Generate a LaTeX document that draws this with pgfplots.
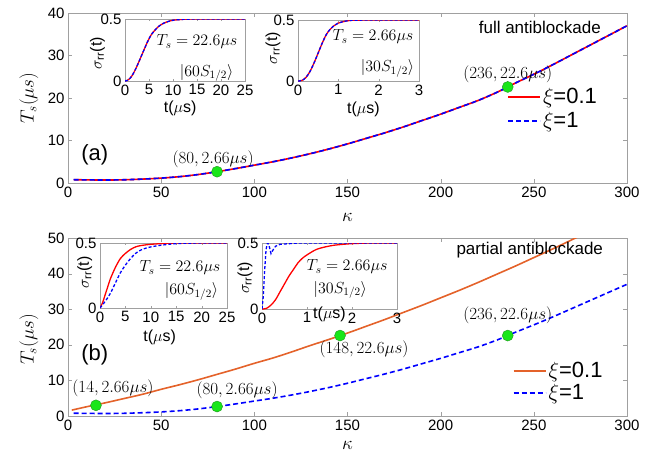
\RequirePackage{fix-cm}
\documentclass[border=0pt]{standalone}
\usepackage{amsmath}
\usepackage{fontspec}
\setmainfont{Liberation Sans}
\usepackage{pgfplots}
\usepackage{pgfplotstable}
\pgfplotsset{compat=1.18}

\definecolor{dotgreen}{RGB}{25,230,25}
\definecolor{dotedge}{RGB}{30,150,30}
\definecolor{xiorange}{RGB}{228,98,42}
\definecolor{xired}{RGB}{255,0,0}
\definecolor{framegray}{RGB}{160,160,160}

\newcommand{\fs}[1]{\fontsize{#1}{#1}\selectfont}

% T_s vs kappa (full antiblockade, and xi=1 in partial)
\pgfplotstableread{
k T
3 0.78
10 0.74
20 0.70
30 0.76
40 0.92
50 1.15
60 1.5
70 2.0
80 2.66
90 3.4
100 4.2
110 5.0
120 5.9
130 6.9
140 8.0
150 9.2
160 10.5
170 11.8
180 13.2
190 14.7
200 16.2
210 17.8
220 19.4
230 21.3
236 22.6
240 23.5
250 25.6
260 27.8
270 30.1
280 32.4
290 34.7
300 37.0
}\curveA

% xi=0.1, partial antiblockade
\pgfplotstableread{
k T
2 1.65
10 2.6
20 3.7
30 4.9
40 6.1
50 7.5
60 8.8
70 10.2
80 11.7
90 13.2
100 14.8
110 16.3
120 18.0
130 19.8
140 21.5
150 23.3
160 25.2
170 27.1
180 29.1
190 31.1
200 33.2
210 35.3
220 37.5
230 39.8
240 42.1
250 44.5
260 46.9
270 49.4
275 50.7
}\curveB

% inset curves
\pgfplotstableread{
t s
0 0
0.5 0.005
1 0.02
1.5 0.045
2 0.08
2.5 0.12
3 0.165
3.5 0.21
4 0.255
4.5 0.30
5 0.34
5.5 0.375
6 0.40
7 0.44
8 0.465
9 0.48
10 0.49
12 0.497
15 0.5
25 0.5
}\sigAone

\pgfplotstableread{
t s
0 0
0.1 0.005
0.2 0.03
0.3 0.08
0.4 0.15
0.5 0.23
0.6 0.31
0.7 0.38
0.8 0.425
0.9 0.455
1.0 0.475
1.2 0.492
1.5 0.499
3 0.5
}\sigAtwo

\pgfplotstableread{
t s
0 0
0.5 0.04
1 0.10
1.5 0.16
2 0.22
3 0.31
4 0.38
5 0.42
6 0.45
7 0.47
8 0.48
10 0.49
13 0.497
16 0.5
25 0.5
}\sigBoneRed

\pgfplotstableread{
t s
0 0
1 0.05
2 0.11
3 0.19
4 0.27
5 0.33
6 0.38
7 0.42
8 0.445
9 0.46
10 0.47
12 0.483
14 0.492
16 0.497
20 0.5
25 0.5
}\sigBoneBlue

\pgfplotstableread{
t s
0 0
0.1 0.005
0.2 0.03
0.3 0.07
0.4 0.13
0.5 0.19
0.6 0.25
0.7 0.30
0.8 0.35
0.9 0.385
1.0 0.41
1.2 0.45
1.4 0.47
1.6 0.483
1.8 0.49
2.0 0.495
2.4 0.5
3 0.5
}\sigBtwoRed

\pgfplotstableread{
t s
0 0
0.03 0.1
0.06 0.3
0.09 0.45
0.12 0.5
0.15 0.49
0.2 0.42
0.25 0.45
0.3 0.475
0.4 0.49
0.6 0.495
0.8 0.5
3 0.5
}\sigBtwoBlue

\pgfplotsset{
  every axis/.append style={
    scale only axis, anchor=south west, clip mode=individual,
    axis line style={framegray}, tick align=inside,
    tick style={framegray},
    tick label style={font=\fs{15}},
    /pgf/number format/assume math mode=true,
  },
  main/.style={
    width=559pt, xmin=0, xmax=300, xtick={0,50,...,300},
    major tick length=4pt,
    xlabel={$\kappa$}, ylabel={$T_s(\mu s)$},
    label style={font=\fs{19}},
    legend image code/.code={\draw[##1, line width=1.8pt] (0pt,0pt) -- (32pt,0pt);},
  },
  inset/.style={
    ymin=0, ymax=0.5, ytick={0,0.5}, xmin=0,
    major tick length=2pt,
    axis background/.style={fill=white},
    xlabel={t($\mu$s)}, ylabel={$\sigma_{\text{rr}}$(t)},
    label style={font=\fs{16}},
  },
  dots/.style={only marks, mark=*, mark size=5.5pt, mark options={fill=dotgreen, draw=dotedge}, forget plot},
  solidred/.style={color=xired, line width=1.6pt},
  solidorange/.style={color=xiorange, line width=1.6pt},
  dashblue/.style={color=blue, line width=1.6pt, dash pattern=on 5pt off 3pt},
}

\begin{document}
\begin{tikzpicture}
\useasboundingbox (0pt,0pt) rectangle (668pt,-458pt);

% ---------- panel (a) ----------
\begin{axis}[main, at={(68pt,-183pt)}, height=170pt, ymin=0, ymax=40, ytick={0,10,...,40},
  xlabel style={at={(axis description cs:0.5,-0.2)}, anchor=center},
  ylabel style={at={(axis description cs:-0.07,0.5)}, anchor=center},
  legend style={at={(axis description cs:0.78,0.58)}, anchor=north west,
    draw=none, fill=none, font=\fontsize{22}{26}\selectfont, row sep=3pt,
    cells={anchor=west}}]
\addplot[solidred, smooth] table {\curveA};
\addlegendentry{$\xi$=0.1}
\addplot[dashblue, smooth] table {\curveA};
\addlegendentry{$\xi$=1}
\addplot[dots] coordinates {(80,2.66) (236,22.6)};
\node[font=\fs{17}, xshift=-4pt, yshift=12pt] at (axis cs:80,2.66) {$(80, 2.66\mu s)$};
\node[font=\fs{17}, yshift=13pt] at (axis cs:236,22.6) {$(236, 22.6\mu s)$};
\node[font=\fs{17}] at (rel axis cs:0.844,0.918) {full antiblockade};
\node[font=\fs{22}] at (rel axis cs:0.048,0.165) {(a)};
\end{axis}

\begin{axis}[inset, at={(125pt,-81pt)}, width=120pt, height=62pt, xmax=25, xtick={0,5,...,25},
  xlabel style={at={(axis description cs:0.46,-0.44)}, anchor=center},
  ylabel style={at={(axis description cs:-0.23,0.45)}, anchor=center}]
\addplot[xired, line width=1.3pt, smooth] table {\sigAone};
\addplot[blue, line width=1.3pt, dash pattern=on 3pt off 2pt, smooth] table {\sigAone};
\node[font=\fs{16}] at (rel axis cs:0.6,0.63) {$T_s = 22.6\mu s$};
\node[font=\fs{16}] at (rel axis cs:0.68,0.13) {$|60S_{1/2}\rangle$};
\end{axis}

\begin{axis}[inset, at={(298pt,-81pt)}, width=121pt, height=61pt, xmax=3, xtick={0,1,2,3},
  xlabel style={at={(axis description cs:0.54,-0.47)}, anchor=center},
  ylabel style={at={(axis description cs:-0.207,0.54)}, anchor=center}]
\addplot[xired, line width=1.3pt, smooth] table {\sigAtwo};
\addplot[blue, line width=1.3pt, dash pattern=on 3pt off 2pt, smooth] table {\sigAtwo};
\node[font=\fs{16}] at (rel axis cs:0.62,0.72) {$T_s = 2.66\mu s$};
\node[font=\fs{16}] at (rel axis cs:0.74,0.21) {$|30S_{1/2}\rangle$};
\end{axis}

% ---------- panel (b) ----------
\begin{axis}[main, at={(68pt,-416pt)}, height=178pt, ymin=0, ymax=50, ytick={0,10,...,50},
  xlabel style={at={(axis description cs:0.5,-0.165)}, anchor=center},
  ylabel style={at={(axis description cs:-0.07,0.43)}, anchor=center},
  legend style={at={(axis description cs:0.79,0.325)}, anchor=north west,
    draw=none, fill=none, font=\fontsize{22}{26}\selectfont, row sep=1pt,
    cells={anchor=west}}]
\addplot[solidorange, smooth] table {\curveB};
\addlegendentry{$\xi$=0.1}
\addplot[dashblue, smooth] table {\curveA};
\addlegendentry{$\xi$=1}
\addplot[dots] coordinates {(15,3.0) (80,2.66) (146,22.6) (236,22.6)};
\node[font=\fs{17}, xshift=17pt, yshift=17pt] at (axis cs:15,3.0) {$(14, 2.66\mu s)$};
\node[font=\fs{17}, xshift=20pt, yshift=16pt] at (axis cs:80,2.66) {$(80, 2.66\mu s)$};
\node[font=\fs{17}, xshift=24pt, yshift=-14pt] at (axis cs:146,22.6) {$(148, 22.6\mu s)$};
\node[font=\fs{17}, yshift=20pt] at (axis cs:236,22.6) {$(236, 22.6\mu s)$};
\node[font=\fs{17}] at (rel axis cs:0.826,0.933) {partial antiblockade};
\node[font=\fs{22}] at (rel axis cs:0.048,0.343) {(b)};
\end{axis}

\begin{axis}[inset, at={(100pt,-308pt)}, width=127pt, height=65pt, xmax=25, xtick={0,5,...,25},
  xlabel style={at={(axis description cs:0.47,-0.45)}, anchor=center},
  ylabel style={at={(axis description cs:-0.12,0.55)}, anchor=center}]
\addplot[xired, line width=1.3pt, smooth] table {\sigBoneRed};
\addplot[blue, line width=1.3pt, dash pattern=on 3pt off 2pt, smooth] table {\sigBoneBlue};
\node[font=\fs{16}] at (rel axis cs:0.63,0.62) {$T_s = 22.6\mu s$};
\node[font=\fs{16}] at (rel axis cs:0.72,0.25) {$|60S_{1/2}\rangle$};
\end{axis}

\begin{axis}[inset, at={(262pt,-309pt)}, width=135pt, height=66pt, xmax=3, xtick={0,1,2,3},
  xlabel style={at={(axis description cs:0.5,-0.08)}, anchor=center},
  ylabel style={at={(axis description cs:-0.126,0.47)}, anchor=center}]
\addplot[xired, line width=1.3pt, smooth] table {\sigBtwoRed};
\addplot[blue, line width=1.3pt, dash pattern=on 3pt off 2pt] table {\sigBtwoBlue};
\node[font=\fs{16}] at (rel axis cs:0.63,0.64) {$T_s = 2.66\mu s$};
\node[font=\fs{16}] at (rel axis cs:0.58,0.29) {$|30S_{1/2}\rangle$};
\end{axis}
\end{tikzpicture}
\end{document}
